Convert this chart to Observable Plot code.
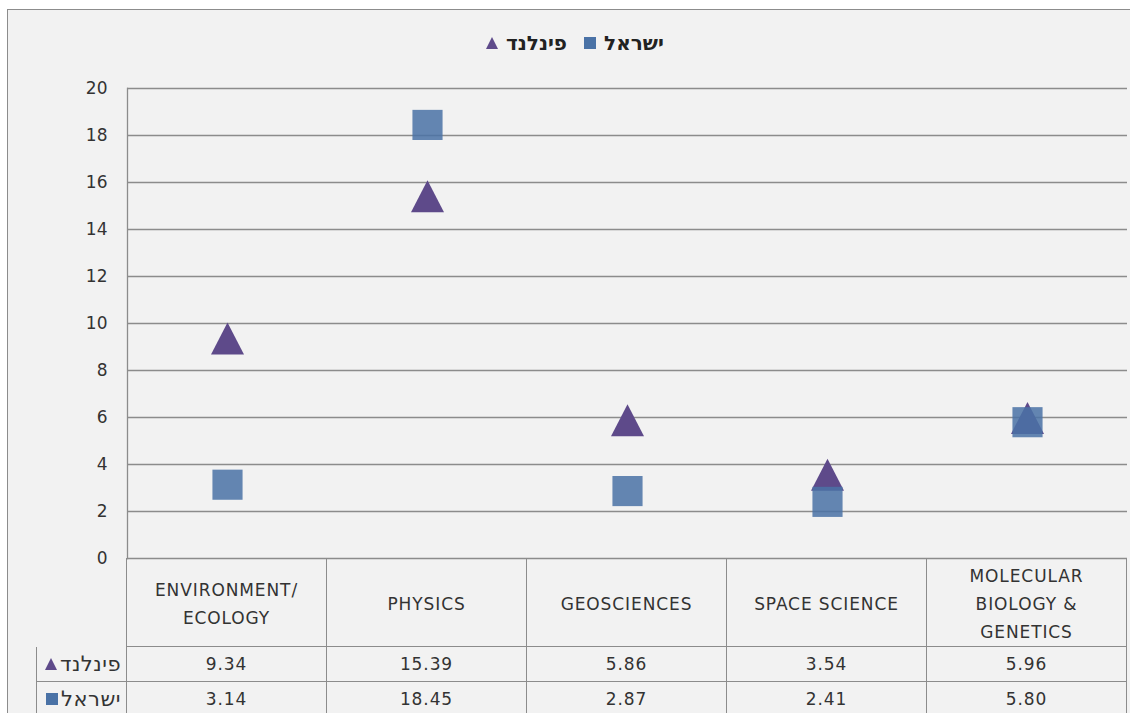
<!DOCTYPE html>
<html>
<head>
<meta charset="utf-8">
<script src="https://cdn.jsdelivr.net/npm/d3@7"></script>
<script src="https://cdn.jsdelivr.net/npm/@observablehq/plot@0.6"></script>
<style>
  html, body { margin: 0; padding: 0; background: #ffffff; }
  #wrap { position: relative; width: 1130px; height: 713px; overflow: hidden; font-family: "DejaVu Sans", sans-serif; color: #333; }
  #panel { position: absolute; left: 7px; top: 9px; width: 1140px; height: 720px; border: 1px solid #8c8c8c; background: #f2f2f2; }
  #legend { position: absolute; top: 31px; left: 486px; display: flex; align-items: center; font-size: 20px; font-weight: bold; color: #222; }
  #legend .item { display: flex; align-items: center; margin-right: 17px; }
  #legend svg { margin-right: 8px; }
  #chart { position: absolute; left: 0; top: 0; }
  #table { position: absolute; left: 36px; top: 558px; display: grid; grid-template-columns: 91px repeat(5, 200px); grid-template-rows: 89px 35px 35px; font-size: 17px; color: #333; }
  #table .cell { box-sizing: border-box; display: flex; align-items: center; justify-content: center; text-align: center; border-right: 1px solid #8c8c8c; border-bottom: 1px solid #8c8c8c; letter-spacing: 0.9px; }
  #table .head { flex-direction: column; line-height: 28px; padding-top: 3px; }
  #table .blank { border-bottom: none; }
  #table .rowlab { border-left: 1px solid #8c8c8c; justify-content: flex-end; padding-right: 5px; letter-spacing: 0.5px; font-size: 21px; }
  #table .rowlab svg { margin-right: 3px; }
</style>
</head>
<body>
<div id="wrap">
  <div id="panel"></div>
  <div id="legend"></div>
  <div id="chart"></div>
  <div id="table"></div>
</div>
<script>
// ---- data ----
const categories = ["ENVIRONMENT/ ECOLOGY", "PHYSICS", "GEOSCIENCES", "SPACE SCIENCE", "MOLECULAR BIOLOGY & GENETICS"];
const categoryLines = [["ENVIRONMENT/", "ECOLOGY"], ["PHYSICS"], ["GEOSCIENCES"], ["SPACE SCIENCE"], ["MOLECULAR", "BIOLOGY &", "GENETICS"]];
const finland = [9.34, 15.39, 5.86, 3.54, 5.96];
const israel = [3.14, 18.45, 2.87, 2.41, 5.80];
const seriesNames = ["פינלנד", "ישראל"];
const yTicks = [0, 2, 4, 6, 8, 10, 12, 14, 16, 18, 20];

// ---- styles ----
const finColor = "#5e4a8a";
const isrColor = "#4a72a6";
const gridColor = "#8c8c8c";

const triangleSymbol = {
  draw(context, size) {
    const r = Math.sqrt(size / Math.PI);
    context.moveTo(0, -r);
    context.lineTo(r, r * 0.94);
    context.lineTo(-r, r * 0.94);
    context.closePath();
  }
};

const finData = categories.map((c, i) => ({cat: c, v: finland[i]}));
const isrData = categories.map((c, i) => ({cat: c, v: israel[i]}));

const chart = Plot.plot({
  width: 1130,
  height: 570,
  marginLeft: 127,
  marginRight: 3,
  marginTop: 88,
  marginBottom: 12,
  style: {background: "transparent", fontFamily: "DejaVu Sans, sans-serif", fontSize: "17px", color: "#333"},
  x: {type: "band", domain: categories, padding: 0, axis: null},
  y: {domain: [0, 20]},
  marks: [
    Plot.ruleY(yTicks, {stroke: gridColor, strokeWidth: 1.3}),
    Plot.frame({anchor: "left", stroke: gridColor, strokeWidth: 1.3}),
    Plot.axisY({ticks: yTicks, tickSize: 0, tickPadding: 20, label: null, tickFormat: d => String(d)}),
    Plot.dot(finData, {x: "cat", y: "v", symbol: triangleSymbol, r: 16.5, fill: finColor, stroke: "none"}),
    Plot.dot(isrData, {x: "cat", y: "v", symbol: "square", r: 17, fill: isrColor, fillOpacity: 0.85, stroke: "none"})
  ]
});
document.getElementById("chart").appendChild(chart);

// ---- markers ----
function marker(kind, size) {
  const ns = "http://www.w3.org/2000/svg";
  const s = document.createElementNS(ns, "svg");
  s.setAttribute("width", size);
  s.setAttribute("height", size);
  const el = document.createElementNS(ns, kind === "tri" ? "polygon" : "rect");
  if (kind === "tri") {
    el.setAttribute("points", `${size / 2},0 ${size},${size} 0,${size}`);
    el.setAttribute("fill", finColor);
  } else {
    el.setAttribute("width", size);
    el.setAttribute("height", size);
    el.setAttribute("fill", isrColor);
  }
  s.appendChild(el);
  return s;
}

// ---- legend ----
const legend = document.getElementById("legend");
[["tri", seriesNames[0]], ["sq", seriesNames[1]]].forEach(([k, name]) => {
  const it = document.createElement("div");
  it.className = "item";
  it.appendChild(marker(k, 12));
  const t = document.createElement("span");
  t.dir = "rtl";
  t.textContent = name;
  it.appendChild(t);
  legend.appendChild(it);
});

// ---- data table ----
const table = document.getElementById("table");
function cell(cls, content) {
  const d = document.createElement("div");
  d.className = "cell " + cls;
  if (content) content.forEach(n => d.appendChild(n));
  table.appendChild(d);
  return d;
}
function span(text, dir) {
  const s = document.createElement("span");
  if (dir) s.dir = dir;
  s.textContent = text;
  return s;
}
cell("blank", null);
categoryLines.forEach(lines => cell("head", lines.map(l => span(l))));
[["tri", seriesNames[0], finland], ["sq", seriesNames[1], israel]].forEach(([k, name, vals]) => {
  cell("rowlab", [marker(k, 12), span(name, "rtl")]);
  vals.forEach(v => cell("val", [span(v.toFixed(2))]));
});
</script>
</body>
</html>
